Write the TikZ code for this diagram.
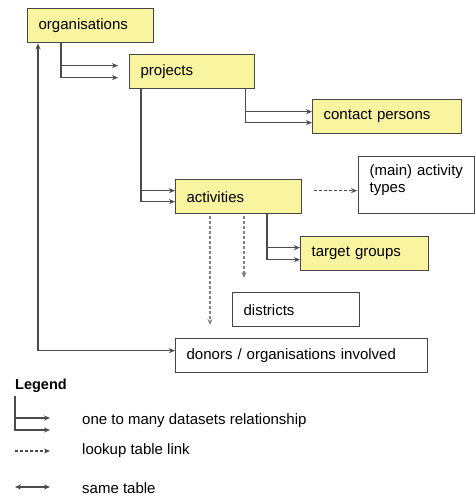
\documentclass[tikz,border=0pt]{standalone}
\usepackage{fontspec}
\setmainfont{Liberation Sans}
\usetikzlibrary{arrows.meta,calc}
\definecolor{tblyellow}{RGB}{248,244,160}
\definecolor{tblline}{RGB}{70,70,70}
\definecolor{linkgray}{RGB}{75,75,75}
\tikzset{
  tbl/.style={draw=tblline, line width=1.3pt, fill=tblyellow, anchor=north west,
    inner xsep=11pt, inner ysep=0pt, minimum height=34pt, text width=#1, align=left,
    font=\fontsize{15}{17}\selectfont},
  lkp/.style={tbl=#1, fill=white},
  rel/.style={draw=linkgray, line width=1.3pt, -{Stealth[length=6pt,width=5pt]}},
  lookup/.style={rel, dash pattern=on 2.5pt off 2.5pt},
  same/.style={rel, {Stealth[length=6pt,width=5pt]}-{Stealth[length=6pt,width=5pt]}},
  legtxt/.style={anchor=west, inner sep=0pt, font=\fontsize{15}{17}\selectfont},
}
\begin{document}
\begin{tikzpicture}[x=1pt,y=-1pt]
    \useasboundingbox (0,0) rectangle (475,496);

    \node[tbl=104pt] (org) at (27,8) {organisations};
    \node[tbl=103pt] (proj) at (129,54) {projects};
    \node[tbl=127pt] (cont) at (312,99) {contact persons};
    \node[tbl=104pt] (act) at (175,179) {activities};
    \node[lkp=94pt, minimum height=57pt, text depth=31pt] (atype) at (358,156) {(main) activity\\types};
    \node[tbl=106pt] (tgt) at (300,236) {target groups};
    \node[lkp=105pt] (dist) at (232,292) {districts};
    \node[lkp=230pt] (don) at (175,338) {donors / organisations involved};

    \draw[rel, shorten >=11pt] ($(org.south west)+(34,0)$) |- ($(proj.west)+(0,-6)$);
    \draw[rel, shorten >=11pt] ($(org.south west)+(34,0)$) |- ($(proj.west)+(0,6)$);

    \draw[rel] ($(proj.south east)+(-10,0)$) |- ($(cont.west)+(0,-5)$);
    \draw[rel] ($(proj.south east)+(-10,0)$) |- ($(cont.west)+(0,6)$);

    \draw[rel] ($(proj.south west)+(12,0)$) |- ($(act.west)+(0,-6)$);
    \draw[rel] ($(proj.south west)+(12,0)$) |- ($(act.west)+(0,5)$);

    \draw[rel] ($(act.south west)+(92,0)$) |- ($(tgt.west)+(0,-6)$);
    \draw[rel] ($(act.south west)+(92,0)$) |- ($(tgt.west)+(0,6)$);

    \draw[lookup, shorten >=1pt] ($(act.east)+(12,-6)$) coordinate (l0) -- (l0 -| atype.west);

    \coordinate (d1) at ($(act.south west)+(69,2)$);
    \draw[lookup, draw=gray, shorten >=14pt] (d1) -- (d1 |- dist.north);
    \coordinate (d2) at ($(act.south west)+(35,2)$);
    \draw[lookup, draw=gray, shorten >=13pt] (d2) -- (d2 |- don.north);

    \draw[same] ($(don.west)+(0,-5)$) -| ($(org.south west)+(11,0)$);

    \node[anchor=west, inner sep=0pt, font=\bfseries\fontsize{14.5}{16}\selectfont] (leg) at (15,386) {Legend};
    \node[legtxt] (l1) at (82,421) {one to many datasets relationship};
    \node[legtxt] (l2) at (82,451) {lookup table link};
    \node[legtxt] (l3) at (82,488) {same table};

    \coordinate (k1) at ($(l1.west)+(-67,-25)$);
    \draw[rel] (k1) |- ($(l1.west)+(-32,-3)$);
    \draw[rel] (k1) |- ($(l1.west)+(-32,9)$);
    \draw[lookup] ($(l2.west)+(-67,0)$) -- ($(l2.west)+(-32,0)$);
    \draw[same] ($(l3.west)+(-67,-1)$) -- ($(l3.west)+(-32,-1)$);
\end{tikzpicture}
\end{document}
